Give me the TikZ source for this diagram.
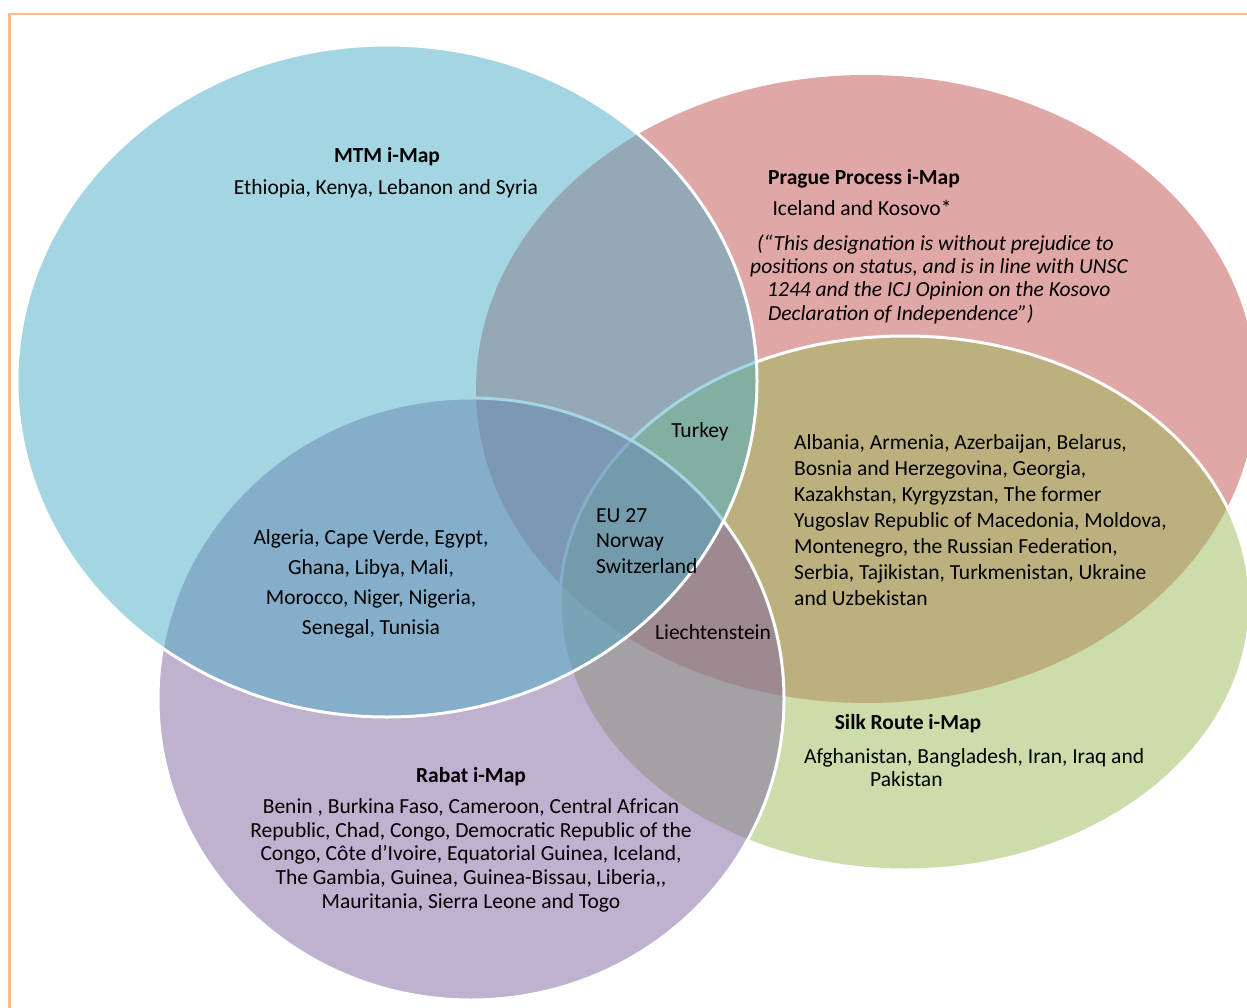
\documentclass[tikz,border=0pt]{standalone}
\usepackage{fontspec}
\setmainfont{Carlito}
\usetikzlibrary{positioning}
\definecolor{mtmblue}{HTML}{4BACC6}
\definecolor{praguered}{HTML}{C0504D}
\definecolor{silkgreen}{HTML}{9BBB59}
\definecolor{rabatpurple}{HTML}{8064A2}
\definecolor{frameorange}{HTML}{F8BD88}
\tikzstyle{imap}=[fill opacity=0.5,draw=white,line width=3pt]
\tikzstyle{txt}=[inner sep=0pt,anchor=base,font=\fontsize{21.5}{26}\selectfont]
\tikzstyle{ttl}=[txt,font=\fontsize{21.5}{26}\selectfont\bfseries]

\begin{document}
\begin{tikzpicture}[x=1pt,y=-1pt]
\clip (0,0) rectangle (1247,1008);
\fill[white] (0,0) rectangle (1247,1008);
\draw[frameorange,line width=2.5pt] (9.5,1040) |- (1280,14);

% the i-Map sets, back to front
\fill[praguered,fill opacity=0.5] (866,389) ellipse [x radius=390pt,y radius=314pt];
\filldraw[imap,fill=silkgreen] (905,603) ellipse [x radius=345pt,y radius=267pt];
\filldraw[imap,fill=rabatpurple] (471,699) ellipse [x radius=313pt,y radius=301pt];
\filldraw[imap,fill=mtmblue] (387,381) ellipse [x radius=370pt,y radius=336pt];

% MTM
\node[ttl] (mtm) at (387,163) {MTM i-Map};
\node[txt] (mtmlist) at (386,195) {Ethiopia, Kenya, Lebanon and Syria};

% Prague Process (multi-line nodes sit on their last baseline)
\node[ttl] (prague) at (864,185) {Prague Process i-Map};
\node[txt] (kosovo) at (862,216) {Iceland and Kosovo*};
\node[txt,anchor=base west,align=left,font=\fontsize{21.5}{23.3}\selectfont\itshape] (note) at (750,320)
  {\hspace*{7pt}(“This designation is without prejudice to\\
   positions on status, and is in line with UNSC\\
   \hspace*{17pt}1244 and the ICJ Opinion on the Kosovo\\
   \hspace*{18pt}Declaration of Independence”)};

% overlaps
\node[txt] (turkey) at (700,437) {Turkey};
\node[txt,anchor=base west,align=left,font=\fontsize{21.5}{25.5}\selectfont] (eu) at (596,573)
  {EU 27\\Norway\\Switzerland};
\node[txt] (liecht) at (713,639) {Liechtenstein};
\node[txt,anchor=base west,align=left] (eastlist) at (794,605)
  {Albania, Armenia, Azerbaijan, Belarus,\\
   Bosnia and Herzegovina, Georgia,\\
   Kazakhstan, Kyrgyzstan, The former\\
   Yugoslav Republic of Macedonia, Moldova,\\
   Montenegro, the Russian Federation,\\
   Serbia, Tajikistan, Turkmenistan, Ukraine\\
   and Uzbekistan};
\node[txt,align=center,font=\fontsize{21.5}{29.7}\selectfont] (africalist) at (371,634)
  {Algeria, Cape Verde, Egypt,\\Ghana, Libya, Mali,\\Morocco, Niger, Nigeria,\\Senegal, Tunisia};

% Silk Route
\node[ttl] (silk) at (908,729) {Silk Route i-Map};
\node[txt,anchor=base west,align=left,font=\fontsize{21.5}{23}\selectfont] (silklist) at (804,786)
  {Afghanistan, Bangladesh, Iran, Iraq and\\\hspace*{66pt}Pakistan};

% Rabat
\node[ttl] (rabat) at (471,782) {Rabat i-Map};
\node[txt,align=center,font=\fontsize{21.5}{23.6}\selectfont] (rabatlist) at (471,908)
  {Benin , Burkina Faso, Cameroon, Central African\\
   Republic, Chad, Congo, Democratic Republic of the\\
   Congo, Côte d'Ivoire, Equatorial Guinea, Iceland,\\
   The Gambia, Guinea, Guinea-Bissau, Liberia,{},\\
   Mauritania, Sierra Leone and Togo};
\end{tikzpicture}
\end{document}
